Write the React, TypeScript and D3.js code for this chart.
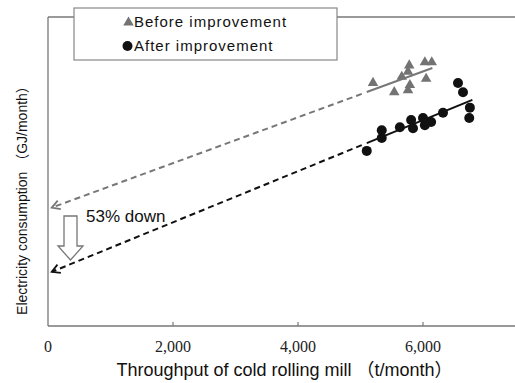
import React from 'react';
import * as d3 from 'd3';

// throughput (t/month) vs electricity consumption (GJ/month)
const beforeX = [5200, 5780, 5760, 5660, 6030, 6140, 6050, 5540, 5790, 5760];
const beforeY = [2360, 2530, 2470, 2420, 2560, 2560, 2400, 2270, 2340, 2290];
const afterX = [5100, 5340, 5340, 5630, 5810, 5840, 6000, 6030, 6130, 6320, 6560, 6640, 6750, 6740];
const afterY = [1700, 1900, 1825, 1930, 2000, 1920, 2020, 1950, 1980, 2070, 2360, 2270, 2120, 2020];

// fitted lines: [intercept, slope], solid over the observed range
const beforeFit = [1136, 0.2226];
const afterFit = [511, 0.248];
const fitRange = [5100, 6150];
const afterFitRange = [5100, 6790];

const xTicks = [0, 2000, 4000, 6000];

const W = 515;
const H = 383;

export default function App() {
  const x = d3.scaleLinear().domain([0, 7472]).range([48, 515]);
  const y = d3.scaleLinear().domain([0, 3000]).range([326, 17]);

  const line = d3
    .line<number>()
    .x((d) => x(d[0]))
    .y((d) => y(d[1]));

  const fit = (f: number[], a: number, b: number) => [
    [a, f[0] + f[1] * a],
    [b, f[0] + f[1] * b],
  ];

  const tri = d3.symbol().type(d3.symbolTriangle).size(48)();
  const fmt = d3.format(',');
  const sans = '"Liberation Sans", Arial, "Noto Sans CJK JP", sans-serif';

  return (
    <svg width={W} height={H} style={{ position: 'absolute', left: 0, top: 0, background: '#fff' }}>
      <defs>
        <marker id="ahGray" viewBox="-10 -6 12 12" markerWidth="12" markerHeight="12" refX="0" refY="0" orient="auto" markerUnits="userSpaceOnUse">
          <path d="M-8,-4.5 L0,0 L-8,4.5" fill="none" stroke="#777" strokeWidth={1.8} />
        </marker>
        <marker id="ahBlack" viewBox="-10 -6 12 12" markerWidth="12" markerHeight="12" refX="0" refY="0" orient="auto" markerUnits="userSpaceOnUse">
          <path d="M-8,-4.5 L0,0 L-8,4.5" fill="none" stroke="#111" strokeWidth={1.8} />
        </marker>
      </defs>

      {/* axes frame */}
      <line x1={48} x2={515} y1={17} y2={17} stroke="#777" strokeWidth={1.3} />
      <line x1={48} x2={48} y1={17} y2={326} stroke="#777" strokeWidth={1.3} />
      <line x1={48} x2={515} y1={326} y2={326} stroke="#777" strokeWidth={1.3} />
      {xTicks.map((t) => (
        <g key={t}>
          {t > 0 && <line x1={x(t)} x2={x(t)} y1={322} y2={326} stroke="#777" strokeWidth={1.2} />}
          <text x={x(t)} y={352} textAnchor="middle" fontFamily='"Liberation Serif", "Times New Roman", serif' fontSize={16} fill="#222">
            {fmt(t)}
          </text>
        </g>
      ))}

      <text x={284.5} y={376} textAnchor="middle" fontFamily={sans} fontSize={18} fill="#111">
        Throughput of cold rolling mill （t/month）
      </text>
      <text transform="translate(27,197) rotate(-90)" textAnchor="middle" fontFamily={sans} fontSize={14} fill="#111">
        Electricity consumption （GJ/month）
      </text>

      {/* extrapolation arrows */}
      <path d={line(fit(beforeFit, fitRange[0] - 80, 60) as any) || ''} fill="none" stroke="#777" strokeWidth={2} strokeDasharray="6,4" markerEnd="url(#ahGray)" />
      <path d={line(fit(afterFit, afterFitRange[0] - 80, 60) as any) || ''} fill="none" stroke="#111" strokeWidth={2} strokeDasharray="6,4" markerEnd="url(#ahBlack)" />

      {/* fitted lines */}
      <path d={line(fit(beforeFit, fitRange[0], fitRange[1]) as any) || ''} fill="none" stroke="#777" strokeWidth={2} />
      <path d={line(fit(afterFit, afterFitRange[0], afterFitRange[1]) as any) || ''} fill="none" stroke="#111" strokeWidth={2} />

      {/* points */}
      {beforeX.map((v, i) => (
        <path key={'b' + i} d={tri || ''} transform={`translate(${x(v)},${y(beforeY[i])})`} fill="#737373" />
      ))}
      {afterX.map((v, i) => (
        <circle key={'a' + i} cx={x(v)} cy={y(afterY[i])} r={5} fill="#111" />
      ))}

      {/* down arrow + label */}
      <path d="M64,216 L77,216 L77,246 L83,246 L70.5,260 L58,246 L64,246 Z" fill="#fff" stroke="#777" strokeWidth={1.3} />
      <text x={86} y={222} fontFamily={sans} fontSize={17} fill="#111">
        53% down
      </text>

      {/* legend */}
      <rect x={74} y={8} width={263} height={52} fill="#fff" stroke="#888" strokeWidth={1.2} />
      <path d={tri || ''} transform="translate(128.5,22.5)" fill="#737373" />
      <text x={134} y={27} fontFamily={sans} fontSize={15} letterSpacing={1} fill="#111">
        Before improvement
      </text>
      <circle cx={127.5} cy={46} r={5} fill="#111" />
      <text x={134} y={51} fontFamily={sans} fontSize={15} letterSpacing={1} fill="#111">
        After improvement
      </text>
    </svg>
  );
}
